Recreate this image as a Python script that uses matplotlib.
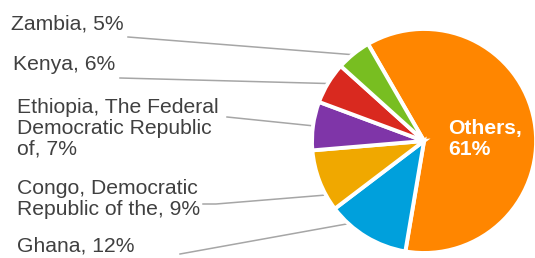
"""Share of cases by country, pie with leader-line labels."""

import numpy as np
import matplotlib.pyplot as plt

plt.rcParams["font.family"] = ["Liberation Sans", "DejaVu Sans"]

# data (clockwise from the top-left edge of "Others")
countries = ["Others", "Ghana", "Congo, Democratic\nRepublic of the",
             "Ethiopia, The Federal\nDemocratic Republic\nof", "Kenya", "Zambia"]
shares = [61, 12, 9, 7, 6, 5]
colors = ["#FF8600", "#00A0DC", "#F0A800", "#7F35A8", "#D9291F", "#78BE21"]

W, H = 535, 258
fig = plt.figure(figsize=(W / 100, H / 100), dpi=100)
ax = fig.add_axes([0, 0, 1, 1])

cx, cy, r = 424, H - 141, 112
wedges, _ = ax.pie(
    shares,
    colors=colors,
    startangle=120,
    counterclock=False,
    radius=r,
    center=(cx, cy),
    explode=[0.1, 0, 0, 0, 0, 0],
    wedgeprops=dict(edgecolor="white", linewidth=2.8),
)
ax.set_xlim(0, W)
ax.set_ylim(0, H)
ax.set_aspect("equal")
ax.axis("off")

# label text position (left x, top y in pixels), elbow point, where on the wedge the line ends
label_layout = {
    "Zambia": ((11, 14), [(128, 37)], 0.5),
    "Kenya": ((13, 55), [(120, 78)], 0.5),
    "Ethiopia, The Federal\nDemocratic Republic\nof": ((17, 98), [(227, 117)], 0.5),
    "Congo, Democratic\nRepublic of the": ((17, 179), [(203, 204), (216, 204)], 0.75),
    "Ghana": ((17, 236), [(180, 254)], 0.25),
}

for wedge, name, share in zip(wedges, countries, shares):
    if name == "Others":
        ax.text(448, H - 119, f"{name},\n{share}%", color="white", fontsize=15.2,
                fontweight="bold", ha="left", va="top", linespacing=1.15)
        continue
    (tx, ty), elbow, frac = label_layout[name]
    ax.text(tx, H - ty, f"{name}, {share}%", color="#404040", fontsize=15.2,
            ha="left", va="top", linespacing=1.12)
    ang = np.deg2rad(wedge.theta1 + frac * (wedge.theta2 - wedge.theta1))
    ex = cx + 0.99 * r * np.cos(ang)
    ey = cy + 0.99 * r * np.sin(ang)
    xs = [p[0] for p in elbow] + [ex]
    ys = [H - p[1] for p in elbow] + [ey]
    ax.plot(xs, ys, color="#A6A6A6", linewidth=1.1, zorder=0)

fig.savefig("out.png", dpi=100)
